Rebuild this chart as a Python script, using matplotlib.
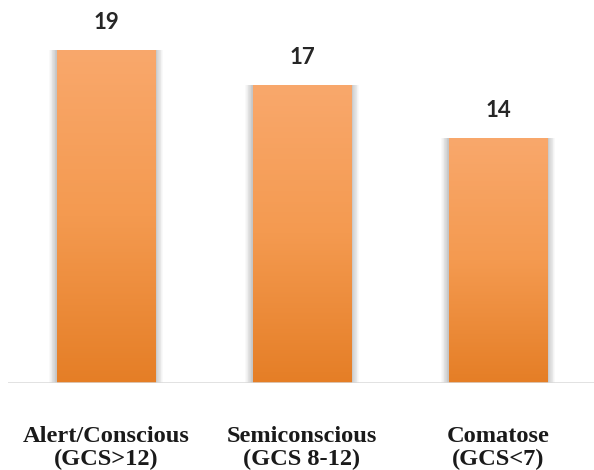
import numpy as np
import matplotlib.pyplot as plt
from matplotlib.colors import LinearSegmentedColormap

categories = ["Alert/Conscious\n(GCS>12)", "Semiconscious\n(GCS 8-12)", "Comatose\n(GCS<7)"]
counts = [19, 17, 14]

fig = plt.figure(figsize=(5.94, 4.70), dpi=100)
ax = fig.add_axes([0.0135, 0.185, 0.99, 0.815])

x = np.arange(len(counts))
width = 0.5
cmap = LinearSegmentedColormap.from_list("grad", ["#E57E26", "#F49A50", "#F9A86C"])
grad = np.linspace(0, 1, 256).reshape(-1, 1)

for xi, v in zip(x, counts):
    # soft shadow on both sides, many faint layers
    for k in range(10):
        pad = 0.04 * (1 - k / 10)
        ax.bar(xi, v, width=width + 2 * pad, color="black", alpha=0.022,
               zorder=1, linewidth=0)
    bars = ax.bar(xi, v, width=width, color="none", zorder=2, linewidth=0)
    im = ax.imshow(grad, cmap=cmap, aspect="auto", origin="lower",
                   extent=[xi - width / 2, xi + width / 2, 0, v], zorder=2)
    im.set_clip_path(bars[0])
    ax.text(xi, v + 1.55, str(v), ha="center", va="center", fontsize=16,
            fontweight="bold", family="Lato", color="#262626")

ax.set_xlim(-0.5, 2.5)
ax.set_ylim(0, 21.85)
ax.axhline(0, color="#D9D9D9", linewidth=1.8, zorder=3)

for s in ax.spines.values():
    s.set_visible(False)
ax.set_yticks([])
ax.set_xticks(x)
ax.set_xticklabels(categories, family="Liberation Serif", fontweight="bold",
                   fontsize=17.6, color="#1a1a1a", linespacing=1.1)
ax.tick_params(axis="x", length=0, pad=31)

fig.savefig("out.png", dpi=100)
